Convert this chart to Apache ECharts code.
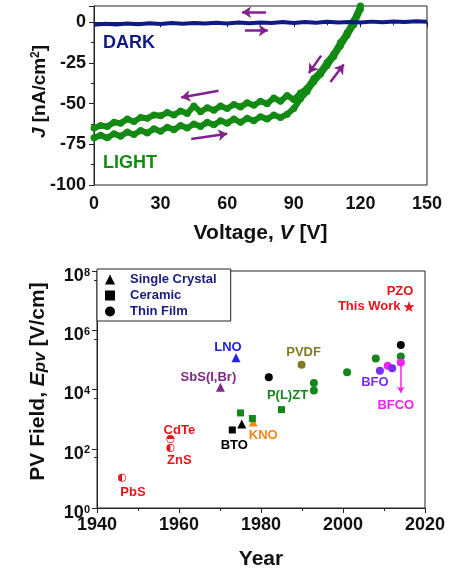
<!DOCTYPE html>
<html><head><meta charset="utf-8">
<script src="https://cdn.jsdelivr.net/npm/echarts@6/dist/echarts.min.js"></script>
<style>html,body{margin:0;padding:0;background:#fff}#c{width:456px;height:571px}</style>
</head><body><div id="c"></div>
<script>
// ---------- Top panel: J-V sweep ----------
const darkVoltage = [0,5,10,15,20,25,30,35,40,45,50,55,60,65,70,75,80,85,90,95,100,105,110,115,120,125,130,135,140,145,150];
const darkCurrent = [-1.6,-0.9,-1.4,-0.7,-1.2,-0.6,-1.1,-0.5,-0.9,-0.4,-0.8,-0.3,-0.7,-0.2,-0.6,-0.1,-0.5,0.1,-0.4,0.2,-0.3,0.3,-0.2,0.2,-0.1,0.4,0,0.5,0.1,0.6,0.3];
const lightVoltageUp = [0,3,6,9,12,15,18,21,24,27,30,33,36,39,42,45,48,51,54,57,60,63,66,69,72,75,78,81,84,87,90,93,96,99,102,105,108,111,114,117,120];
const lightCurrentUp = [-71,-69.5,-71,-68.5,-70,-67.5,-69,-66.5,-68,-65.5,-67,-64.5,-66,-63.5,-65,-62.5,-64,-61.5,-63,-60.5,-62,-59.5,-61.5,-59,-60.5,-58,-59.5,-57,-58.5,-56.5,-53,-47,-42.5,-36.5,-32,-26.5,-21,-14.5,-8,-1.5,8];
const lightVoltageDown = [120,117,114,111,108,105,102,99,96,93,90,87,84,81,78,75,72,69,66,63,60,57,54,51,48,45,42,39,36,33,30,27,24,21,18,15,12,9,6,3,0];
const lightCurrentDown = [10,1,-6.5,-12.5,-19.5,-24.5,-30.5,-34.5,-40.5,-43.5,-47.5,-45,-48.5,-46.5,-50,-48.5,-51,-49.5,-52,-50.5,-53,-51.5,-54,-52.5,-55,-51.5,-56,-54.5,-57,-55.5,-57.5,-57,-59,-58.5,-61,-59.5,-62,-61.5,-64,-63.5,-65];
const jTicks = [-100,-75,-50,-25,0];
const vTicks = [0,30,60,90,120,150];
// sweep-direction arrows [V0, J0, V1, J1]
const sweepArrows = [
  [77.5, 6.2, 66.7, 6.2],
  [68, -5.1, 78.3, -5.1],
  [56.1, -42.1, 39.3, -46.2],
  [43.8, -71.8, 60, -68.5],
  [102.3, -20.5, 96.8, -31.2],
  [106.5, -36.7, 112.5, -26]
];

// ---------- Bottom panel: PV field vs year ----------
const crystalYear = [1970.1, 1973.9, 1975.3, 1978.1];
const crystalField = [1.2e4, 1.17e5, 680, 800];
const crystalMaterial = ['SbS(I,Br)', 'LNO', 'BTO', 'KNO'];
const ceramicYear = [1973.0, 1975.0, 1977.9, 1985.0];
const ceramicField = [430, 1620, 1050, 2090];
const ceramicMaterial = ['BTO', 'P(L)ZT', 'P(L)ZT', 'P(L)ZT'];
const filmYear = [1981.9, 1989.9, 1992.9, 1992.9, 2001.0, 2008.0, 2009.0, 2010.9, 2012.0, 2014.1, 2014.1, 2014.1];
const filmField = [2.6e4, 6.8e4, 1.66e4, 9.3e3, 3.8e4, 1.12e5, 4.3e4, 6.3e4, 5.2e4, 3.2e5, 1.3e5, 8.1e4];
const filmMaterial = ['BTO','PVDF','P(L)ZT','P(L)ZT','P(L)ZT','P(L)ZT','BFO','BFCO','BFO','BTO','P(L)ZT','BFCO'];
const semiYear = [1946.1, 1957.9, 1957.9];
const semiField = [10.5, 214, 105];
const semiMaterial = ['PbS', 'CdTe', 'ZnS'];
const pzoYear = [2016.1];
const pzoField = [6.3e6];
const bfcoArrow = [2014.1, 8.1e4, 2014.1, 7800];
const yearTicks = [1940, 1960, 1980, 2000, 2020];

// ---------- styles ----------
const FONT = 'Liberation Sans';
const NAVY = '#101a86';
const GREEN = '#138a13';
const ARROW = '#84208c';
const RED = '#e8141c';
const materialColor = {
  'BTO':'#000000', 'P(L)ZT':'#14861a', 'KNO':'#f5861f', 'LNO':'#1f1fe8',
  'SbS(I,Br)':'#7d2a84', 'PVDF':'#7f7a22', 'BFO':'#7a2ff0', 'BFCO':'#ef22ef',
  'PbS':RED, 'CdTe':RED, 'ZnS':RED, 'PZO':RED
};
// label placement: series -> index -> [dx, dy] (pixels from mark centre)
const labelPlace = {
  crystal: {0:[-12,-10], 1:[-8,-10], 3:[10,13]},
  ceramic: {0:[2,15], 3:[6,-14]},
  film: {1:[2,-12], 6:[-5,12], 11:[-5,43]},
  semi: {0:[11,15], 1:[9,-9], 2:[9,12]}
};
const halfPath = {
  left: 'path://M0,-10A10,10 0 1,1 0,10A10,10 0 1,1 0,-10ZM0,-8.3A8.3,8.3 0 1,0 0,8.3A8.3,8.3 0 1,0 0,-8.3ZM0,-8.3A8.3,8.3 0 0,0 0,8.3Z',
  top: 'path://M0,-10A10,10 0 1,1 0,10A10,10 0 1,1 0,-10ZM0,-8.3A8.3,8.3 0 1,0 0,8.3A8.3,8.3 0 1,0 0,-8.3ZM-8.3,0A8.3,8.3 0 0,1 8.3,0Z'
};
const semiHalf = ['left', 'top', 'left'];
const starPath = 'path://M0,-10L2.35,-3.24L9.51,-3.09L3.8,1.24L5.88,8.09L0,4L-5.88,8.09L-3.8,1.24L-9.51,-3.09L-2.35,-3.24Z';

function pointData(years, fields, materials, key) {
  return years.map((y, i) => {
    const m = materials[i];
    const item = { value: [y, fields[i]], name: m, itemStyle: { color: materialColor[m], opacity: 1 } };
    const p = labelPlace[key] && labelPlace[key][i];
    if (p) {
      item.label = { show: true, formatter: m, position: 'inside', offset: p,
        color: materialColor[m], fontSize: 13, fontWeight: 'bold', fontFamily: FONT };
    }
    return item;
  });
}

const chart = echarts.init(document.getElementById('c'), null, { renderer: 'canvas' });
const axisLineStyle = { lineStyle: { color: '#222', width: 1 } };

const option = {
  animation: false,
  backgroundColor: '#fff',
  textStyle: { fontFamily: FONT, fontWeight: 'bold' },
  grid: [
    { left: 94, top: 6, width: 333, height: 179, show: true, borderColor: '#222', borderWidth: 1, backgroundColor: 'transparent' },
    { left: 97, top: 271, width: 328, height: 240, show: true, borderColor: '#222', borderWidth: 1, backgroundColor: 'transparent' }
  ],
  legend: {
    left: 97, top: 269, orient: 'vertical', selectedMode: false,
    borderColor: '#222', borderWidth: 1, borderRadius: 0,
    padding: [4, 14, 3, 8], itemGap: 3, itemWidth: 10, itemHeight: 10,
    backgroundColor: '#fff',
    textStyle: { color: '#1a1a80', fontSize: 13, fontWeight: 'bold', fontFamily: FONT, padding: [0, 0, 0, 10] },
    data: [
      { name: 'Single Crystal', icon: 'triangle' },
      { name: 'Ceramic', icon: 'rect' },
      { name: 'Thin Film', icon: 'circle' }
    ]
  },
  xAxis: [
    { gridIndex: 0, type: 'value', min: vTicks[0], max: vTicks[vTicks.length-1], interval: 30,
      axisLine: axisLineStyle, splitLine: { show: false },
      axisTick: { show: true, inside: false, length: 5, lineStyle: { color: '#222' } },
      minorTick: { show: true, splitNumber: 2, length: 3, lineStyle: { color: '#222' } },
      axisLabel: { fontSize: 18, fontWeight: 'bold', color: '#111', margin: 10, fontFamily: FONT },
      name: 'Voltage, {i|V} [V]', nameLocation: 'middle', nameGap: 38,
      nameTextStyle: { fontSize: 21, fontWeight: 'bold', color: '#111', fontFamily: FONT,
        rich: { i: { fontSize: 21, fontWeight: 'bold', fontStyle: 'italic', color: '#111', fontFamily: FONT } } }
    },
    { gridIndex: 1, type: 'value', min: yearTicks[0], max: yearTicks[yearTicks.length-1], interval: 20,
      axisLine: axisLineStyle, splitLine: { show: false },
      axisTick: { show: true, length: 5, lineStyle: { color: '#222' } },
      minorTick: { show: true, splitNumber: 2, length: 3, lineStyle: { color: '#222' } },
      axisLabel: { fontSize: 18, fontWeight: 'bold', color: '#111', margin: 8, fontFamily: FONT, formatter: v => String(v) },
      name: 'Year', nameLocation: 'middle', nameGap: 41,
      nameTextStyle: { fontSize: 21, fontWeight: 'bold', color: '#111', fontFamily: FONT }
    }
  ],
  yAxis: [
    { gridIndex: 0, type: 'value', min: jTicks[0], max: 10, interval: 25,
      axisLine: axisLineStyle, splitLine: { show: false },
      axisTick: { show: true, length: 5, lineStyle: { color: '#222' } },
      minorTick: { show: true, splitNumber: 2, length: 3, lineStyle: { color: '#222' } },
      axisLabel: { fontSize: 18, fontWeight: 'bold', color: '#111', margin: 8, fontFamily: FONT, showMaxLabel: false,
        formatter: v => (jTicks.indexOf(v) >= 0 ? String(v) : '') },
      name: '{i|J} [nA/cm{s|2}]', nameLocation: 'middle', nameGap: 45, nameRotate: 90, nameMoveOverlap: false,
      nameTextStyle: { fontSize: 19, fontWeight: 'bold', color: '#111', fontFamily: FONT, padding: [0, 0, 0, 8],
        rich: { i: { fontSize: 19, fontWeight: 'bold', fontStyle: 'italic', color: '#111', fontFamily: FONT },
                s: { fontSize: 12, fontWeight: 'bold', color: '#111', fontFamily: FONT, verticalAlign: 'top' } } }
    },
    { gridIndex: 1, type: 'log', logBase: 10, min: 1, max: 1e8, interval: 2,
      axisLine: axisLineStyle, splitLine: { show: false },
      axisTick: { show: true, length: 5, lineStyle: { color: '#222' } },
      minorTick: { show: true, splitNumber: 2, length: 3, lineStyle: { color: '#222' } },
      axisLabel: { margin: 7, fontFamily: FONT, padding: [10, 0, 0, 0],
        formatter: v => '{b|10}{s|' + Math.round(Math.log10(v)) + '}',
        rich: { b: { fontSize: 18, fontWeight: 'bold', color: '#111', fontFamily: FONT },
                s: { fontSize: 11, fontWeight: 'bold', color: '#111', fontFamily: FONT, verticalAlign: 'top' } } },
      name: 'PV Field, {i|E}{sub|pv} [V/cm]', nameLocation: 'middle', nameGap: 48, nameRotate: 90,
      nameTextStyle: { fontSize: 21, fontWeight: 'bold', color: '#111', fontFamily: FONT, padding: [0, 0, 0, 16],
        rich: { i: { fontSize: 21, fontWeight: 'bold', fontStyle: 'italic', color: '#111', fontFamily: FONT },
                sub: { fontSize: 17, fontWeight: 'bold', fontStyle: 'italic', color: '#111', fontFamily: FONT, verticalAlign: 'bottom' } } }
    }
  ],
  series: [
    { name: 'DARK', type: 'line', xAxisIndex: 0, yAxisIndex: 0,
      data: darkVoltage.map((v, i) => [v, darkCurrent[i]]),
      showSymbol: false, lineStyle: { color: NAVY, width: 4 }, itemStyle: { color: NAVY },
      markPoint: { symbol: 'circle', symbolSize: 0, silent: true,
        data: [{ coord: [4, -12.7], label: { show: true, formatter: 'DARK', position: 'right', distance: 0,
          color: NAVY, fontSize: 18, fontWeight: 'bold', fontFamily: FONT } }] },
      markLine: { silent: true, symbol: ['none', 'arrow'], symbolSize: 9,
        lineStyle: { color: ARROW, width: 2.5, type: 'solid' }, label: { show: false },
        data: sweepArrows.map(a => [{ coord: [a[0], a[1]] }, { coord: [a[2], a[3]] }]) }
    },
    { name: 'LIGHT', type: 'line', xAxisIndex: 0, yAxisIndex: 0,
      data: lightVoltageUp.map((v, i) => [v, lightCurrentUp[i]]).concat(lightVoltageDown.map((v, i) => [v, lightCurrentDown[i]])),
      showSymbol: true, symbol: 'circle', symbolSize: 7, z: 1,
      lineStyle: { color: GREEN, width: 6, join: 'round' }, itemStyle: { color: GREEN, opacity: 1 },
      markPoint: { symbol: 'circle', symbolSize: 0, silent: true,
        data: [{ coord: [4, -86.6], label: { show: true, formatter: 'LIGHT', position: 'right', distance: 0,
          color: GREEN, fontSize: 18, fontWeight: 'bold', fontFamily: FONT } }] }
    },
    { name: 'Single Crystal', type: 'scatter', xAxisIndex: 1, yAxisIndex: 1, symbol: 'triangle', symbolSize: 9,
      itemStyle: { color: '#000', opacity: 1 }, data: pointData(crystalYear, crystalField, crystalMaterial, 'crystal') },
    { name: 'Ceramic', type: 'scatter', xAxisIndex: 1, yAxisIndex: 1, symbol: 'rect', symbolSize: 7,
      itemStyle: { color: '#000', opacity: 1 }, data: pointData(ceramicYear, ceramicField, ceramicMaterial, 'ceramic') },
    { name: 'Thin Film', type: 'scatter', xAxisIndex: 1, yAxisIndex: 1, symbol: 'circle', symbolSize: 8,
      itemStyle: { color: '#000', opacity: 1 }, data: pointData(filmYear, filmField, filmMaterial, 'film'),
      markLine: { silent: true, symbol: ['none', 'arrow'], symbolSize: 6,
        lineStyle: { color: materialColor.BFCO, width: 1.5, type: 'solid' }, label: { show: false },
        data: [[{ coord: [bfcoArrow[0], bfcoArrow[1]] }, { coord: [bfcoArrow[2], bfcoArrow[3]] }]] }
    },
    { name: 'semi', type: 'scatter', xAxisIndex: 1, yAxisIndex: 1, symbolSize: 8,
      itemStyle: { opacity: 1 },
      data: pointData(semiYear, semiField, semiMaterial, 'semi').map((d, i) => Object.assign(d, { symbol: halfPath[semiHalf[i]] })) },
    { name: 'PZO', type: 'scatter', xAxisIndex: 1, yAxisIndex: 1, symbol: starPath, symbolSize: 11,
      itemStyle: { color: RED, opacity: 1 },
      data: [
        { value: [pzoYear[0], pzoField[0]], label: { show: true, formatter: 'This Work', position: 'left', distance: 3,
            color: RED, fontSize: 13, fontWeight: 'bold', fontFamily: FONT } },
        { value: [pzoYear[0], pzoField[0]], symbolSize: 0, label: { show: true, formatter: 'PZO', position: 'inside', offset: [-9, -15],
            color: RED, fontSize: 13, fontWeight: 'bold', fontFamily: FONT } }
      ] }
  ]
};
chart.setOption(option);
</script>
</body></html>
